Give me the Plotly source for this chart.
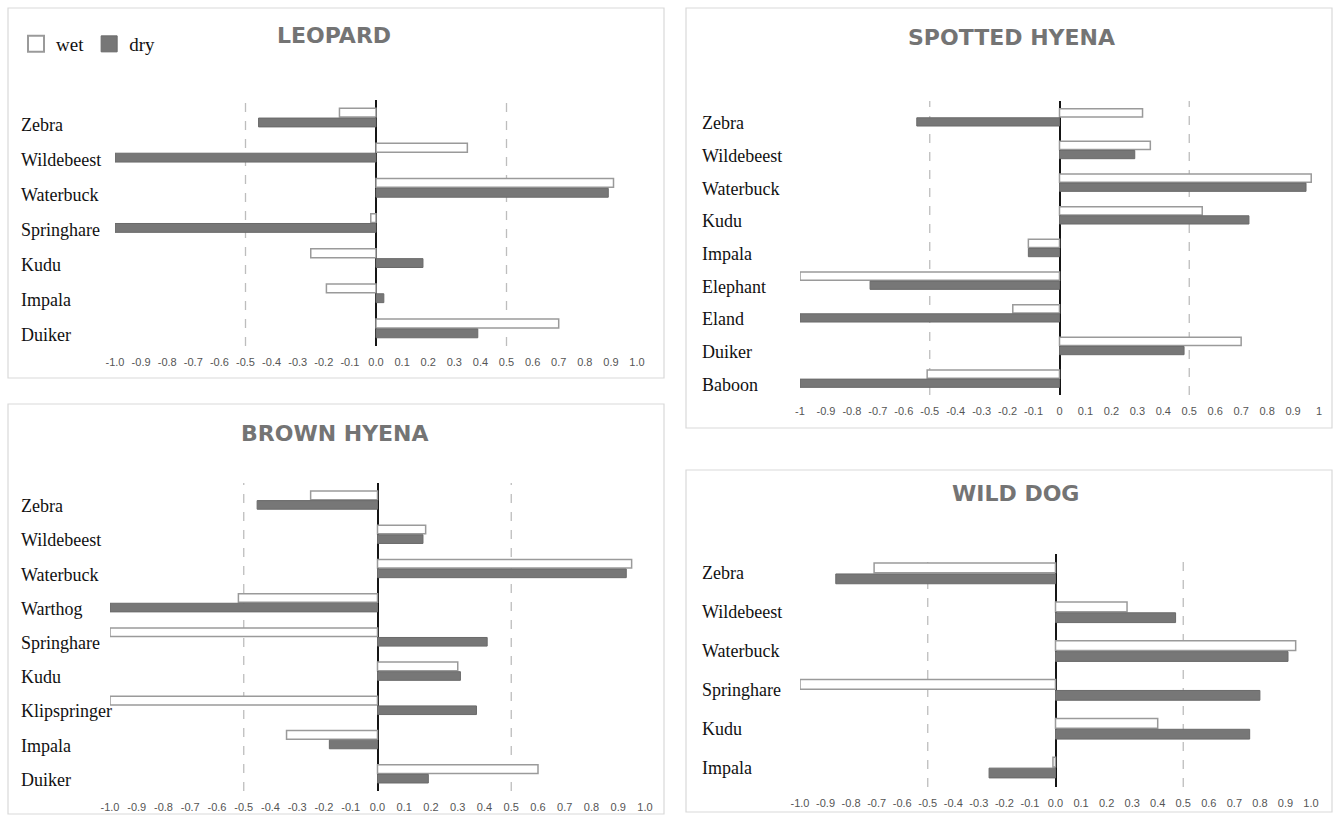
import plotly.graph_objects as go

# ---- data -------------------------------------------------------------
leopard_prey = ["Zebra", "Wildebeest", "Waterbuck", "Springhare", "Kudu", "Impala", "Duiker"]
leopard_wet = [-0.14, 0.35, 0.91, -0.02, -0.25, -0.19, 0.70]
leopard_dry = [-0.45, -1.00, 0.89, -1.00, 0.18, 0.03, 0.39]

spotted_prey = ["Zebra", "Wildebeest", "Waterbuck", "Kudu", "Impala", "Elephant", "Eland", "Duiker", "Baboon"]
spotted_wet = [0.32, 0.35, 0.97, 0.55, -0.12, -1.00, -0.18, 0.70, -0.51]
spotted_dry = [-0.55, 0.29, 0.95, 0.73, -0.12, -0.73, -1.00, 0.48, -1.00]

brown_prey = ["Zebra", "Wildebeest", "Waterbuck", "Warthog", "Springhare", "Kudu", "Klipspringer", "Impala", "Duiker"]
brown_wet = [-0.25, 0.18, 0.95, -0.52, -1.00, 0.30, -1.00, -0.34, 0.60]
brown_dry = [-0.45, 0.17, 0.93, -1.00, 0.41, 0.31, 0.37, -0.18, 0.19]

wilddog_prey = ["Zebra", "Wildebeest", "Waterbuck", "Springhare", "Kudu", "Impala"]
wilddog_wet = [-0.71, 0.28, 0.94, -1.00, 0.40, -0.01]
wilddog_dry = [-0.86, 0.47, 0.91, 0.80, 0.76, -0.26]

tick_vals = [-1.0, -0.9, -0.8, -0.7, -0.6, -0.5, -0.4, -0.3, -0.2, -0.1, 0.0,
             0.1, 0.2, 0.3, 0.4, 0.5, 0.6, 0.7, 0.8, 0.9, 1.0]
tick_text_decimal = ["-1.0", "-0.9", "-0.8", "-0.7", "-0.6", "-0.5", "-0.4", "-0.3", "-0.2", "-0.1", "0.0",
                     "0.1", "0.2", "0.3", "0.4", "0.5", "0.6", "0.7", "0.8", "0.9", "1.0"]
tick_text_plain = ["-1", "-0.9", "-0.8", "-0.7", "-0.6", "-0.5", "-0.4", "-0.3", "-0.2", "-0.1", "0",
                   "0.1", "0.2", "0.3", "0.4", "0.5", "0.6", "0.7", "0.8", "0.9", "1"]
reference_lines = [-0.5, 0.5]
season_names = ["wet", "dry"]

# ---- page geometry (pixels) -------------------------------------------
W, H = 1340, 817


def fx(px):
    return px / W


def fy(px):
    return 1 - px / H


panels = [
    dict(title="LEOPARD", prey=leopard_prey, wet=leopard_wet, dry=leopard_dry, ticks=tick_text_decimal,
         plot=(115, 100, 637, 346), frame=(8, 8, 664, 378), title_at=(334, 35), label_x=19, label_shift=-7),
    dict(title="SPOTTED HYENA", prey=spotted_prey, wet=spotted_wet, dry=spotted_dry, ticks=tick_text_plain,
         plot=(800, 101, 1319, 395), frame=(686, 8, 1332, 428), title_at=(1011, 37), label_x=700, label_shift=-6),
    dict(title="BROWN HYENA", prey=brown_prey, wet=brown_wet, dry=brown_dry, ticks=tick_text_decimal,
         plot=(110, 483, 645, 791), frame=(8, 404, 664, 814), title_at=(335, 433), label_x=19, label_shift=-6),
    dict(title="WILD DOG", prey=wilddog_prey, wet=wilddog_wet, dry=wilddog_dry, ticks=tick_text_decimal,
         plot=(800, 554, 1311, 787), frame=(686, 470, 1332, 812), title_at=(1015, 493), label_x=700, label_shift=0),
]

WET_FILL, WET_LINE = "white", "#9a9a9a"
DRY_FILL, DRY_LINE = "#777777", "#6a6a6a"
TITLE_FONT = dict(family="DejaVu Sans", size=22, color="#747474", weight="bold")
LABEL_FONT = dict(family="Liberation Serif", size=18, color="#111111")
TICK_FONT = dict(family="Liberation Sans Narrow, Liberation Sans, sans-serif", size=11, color="#555555")

fig = go.Figure()
shapes, annotations = [], []
layout_axes = {}

for i, p in enumerate(panels, start=1):
    xa = "x" if i == 1 else f"x{i}"
    ya = "y" if i == 1 else f"y{i}"
    xkey = "xaxis" if i == 1 else f"xaxis{i}"
    ykey = "yaxis" if i == 1 else f"yaxis{i}"
    n = len(p["prey"])

    fig.add_trace(go.Bar(
        name="wet", x=p["wet"], y=p["prey"], orientation="h", xaxis=xa, yaxis=ya,
        marker=dict(color=WET_FILL, line=dict(color=WET_LINE, width=1.5)),
        showlegend=False, hoverinfo="x+y",
    ))
    fig.add_trace(go.Bar(
        name="dry", x=p["dry"], y=p["prey"], orientation="h", xaxis=xa, yaxis=ya,
        marker=dict(color=DRY_FILL, line=dict(color=DRY_LINE, width=1)),
        showlegend=False, hoverinfo="x+y",
    ))

    x0, y0, x1, y1 = p["plot"]
    layout_axes[xkey] = dict(
        domain=[fx(x0), fx(x1)], anchor=ya, range=[-1.0, 1.0], automargin=False,
        tickmode="array", tickvals=tick_vals, ticktext=p["ticks"], tickfont=TICK_FONT,
        ticks="", showgrid=False, showline=False,
        zeroline=True, zerolinecolor="#151515", zerolinewidth=1.8,
        layer="above traces", ticklabelstandoff=8, fixedrange=True,
    )
    layout_axes[ykey] = dict(
        domain=[fy(y1), fy(y0)], anchor=xa, type="category", automargin=False,
        categoryorder="array", categoryarray=p["prey"], range=[n - 0.5, -0.5],
        showticklabels=False, showgrid=False, zeroline=False, showline=False, ticks="",
        fixedrange=True,
    )

    # panel frame
    fx0, fy0, fx1, fy1 = p["frame"]
    shapes.append(dict(type="rect", xref="paper", yref="paper",
                       x0=fx(fx0), x1=fx(fx1), y0=fy(fy1), y1=fy(fy0),
                       line=dict(color="#d9d9d9", width=1.2), fillcolor="rgba(0,0,0,0)", layer="below"))
    # dashed reference lines
    for v in reference_lines:
        shapes.append(dict(type="line", xref=xa, yref=f"{ya} domain", x0=v, x1=v, y0=0, y1=1,
                           line=dict(color="#bdbdbd", width=1.3, dash="dash"), layer="below"))
    # panel title
    tx, ty = p["title_at"]
    annotations.append(dict(text=p["title"], x=fx(tx), y=fy(ty), xref="paper", yref="paper",
                            xanchor="center", yanchor="middle", showarrow=False, font=TITLE_FONT))
    # prey labels
    for name in p["prey"]:
        annotations.append(dict(text=name, x=fx(p["label_x"]), xref="paper", xanchor="left",
                                y=name, yref=ya, yanchor="middle", yshift=p["label_shift"],
                                showarrow=False, font=LABEL_FONT))

# legend keys (wet = open box, dry = filled box)
legend_styles = {
    "wet": dict(color=WET_FILL, line=dict(color=WET_LINE, width=2)),
    "dry": dict(color=DRY_FILL, line=dict(color=DRY_LINE, width=1)),
}
for s in season_names:
    fig.add_trace(go.Scatter(
        x=[None], y=[None], mode="markers", name=s, xaxis="x", yaxis="y",
        marker=dict(symbol="square", size=16, **legend_styles[s]), showlegend=True,
    ))

fig.update_layout(
    width=W, height=H, autosize=False,
    margin=dict(l=0, r=0, t=0, b=0, autoexpand=False),
    paper_bgcolor="white", plot_bgcolor="white",
    barmode="group", bargap=0.44, bargroupgap=0.1,
    showlegend=True,
    legend=dict(orientation="h", xref="container", yref="container",
                x=fx(16), y=fy(25), xanchor="left", yanchor="top",
                font=dict(family="Liberation Serif", size=19, color="#111111"),
                itemwidth=30, bgcolor="rgba(0,0,0,0)", traceorder="normal"),
    shapes=shapes, annotations=annotations,
    **layout_axes,
)

fig.write_html("out.html")
